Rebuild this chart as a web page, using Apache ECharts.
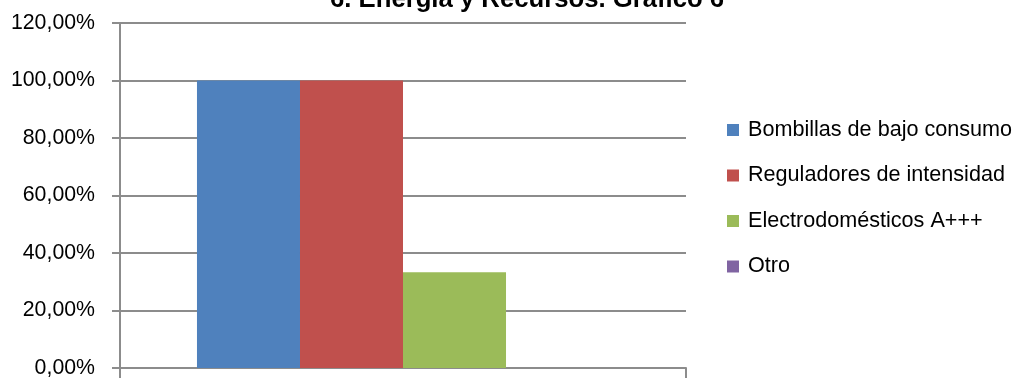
<!DOCTYPE html>
<html>
<head>
<meta charset="utf-8">
<script src="https://cdn.jsdelivr.net/npm/echarts@6/dist/echarts.min.js"></script>
<style>html,body{margin:0;padding:0;background:#fff;}#c{width:1021px;height:378px;}</style>
</head>
<body>
<div id="c"></div>
<script>
const titleText = '6. Energía y Recursos. Gráfico 6';
const categories = [''];
const seriesNames = ['Bombillas de bajo consumo', 'Reguladores de intensidad', 'Electrodomésticos A+++', 'Otro'];
const seriesValues = [[100], [100], [33.33], [0]];
const seriesColors = ['#4F81BD', '#C0504D', '#9BBB59', '#8064A2'];
const yTicks = [0, 20, 40, 60, 80, 100, 120];

const FONT = '"Liberation Sans", Arial, sans-serif';
const chart = echarts.init(document.getElementById('c'), null, {renderer: 'canvas'});
chart.setOption({
  animation: false,
  backgroundColor: '#fff',
  title: {
    text: titleText,
    left: 330,
    top: -13,
    padding: 0,
    textStyle: {fontFamily: FONT, fontWeight: 'bold', fontSize: 25.7, color: '#000'}
  },
  legend: {
    orient: 'vertical',
    left: 727,
    top: 119,
    padding: 0,
    itemWidth: 12,
    itemHeight: 12,
    itemGap: 23.5,
    icon: 'rect',
    textStyle: {fontFamily: FONT, fontSize: 21.6, color: '#000', lineHeight: 22, padding: [0, 0, 0, 4]},
    data: seriesNames
  },
  grid: {left: 120, right: 335, top: 23, bottom: 10, containLabel: false, outerBoundsMode: 'none'},
  xAxis: {
    type: 'category',
    data: categories,
    axisLine: {show: true, lineStyle: {color: '#8c8c8c', width: 2}},
    axisTick: {show: true, length: 10, lineStyle: {color: '#8c8c8c', width: 2}},
    axisLabel: {show: false},
    splitLine: {show: false}
  },
  yAxis: {
    type: 'value',
    min: yTicks[0],
    max: yTicks[yTicks.length - 1],
    interval: yTicks[1] - yTicks[0],
    axisLine: {show: true, lineStyle: {color: '#8c8c8c', width: 2}},
    axisTick: {show: true, length: 8, lineStyle: {color: '#8c8c8c', width: 2}},
    axisLabel: {
      margin: 25,
      fontFamily: FONT, fontSize: 21.3, color: '#000',
      formatter: v => v.toFixed(2).replace('.', ',') + '%'
    },
    splitLine: {show: true, lineStyle: {color: '#8c8c8c', width: 2}}
  },
  series: seriesNames.map((n, i) => ({
    name: n,
    type: 'bar',
    data: seriesValues[i],
    barGap: '0%',
    barCategoryGap: '27.2%',
    itemStyle: {color: seriesColors[i]}
  }))
});
</script>
</body>
</html>
